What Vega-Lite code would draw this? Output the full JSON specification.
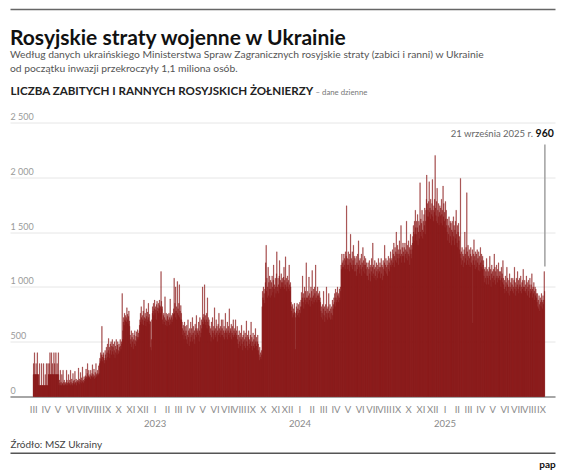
{
"$schema":"https://vega.github.io/schema/vega-lite/v6.json",
"width":545,"height":274,
"autosize":{"type":"none"},
"padding":{"left":10,"top":122.5,"right":9,"bottom":79.5},
"background":"#ffffff",
"config":{"font":"Lato","view":{"stroke":null},"axis":{"labelFont":"Lato","titleFont":"Lato"}},
"title":{"text":"Rosyjskie straty wojenne w Ukrainie","subtitle":["Według danych ukraińskiego Ministerstwa Spraw Zagranicznych rosyjskie straty (zabici i ranni) w Ukrainie","od początku inwazji przekroczyły 1,1 miliona osób."],"anchor":"start","frame":"group","orient":"top","baseline":"top","offset":-65.4,"font":"Lato","fontSize":21,"fontWeight":"bold","color":"#111111","subtitleFont":"Lato","subtitleFontSize":10.3,"subtitleColor":"#555555","subtitleLineHeight":14.3,"subtitlePadding":1},
"datasets":{"straty":[
{"d":"2022-03-12","v":200},{"d":"2022-03-13","v":300},{"d":"2022-03-14","v":200},{"d":"2022-03-15","v":400},{"d":"2022-03-16","v":200},{"d":"2022-03-17","v":200},{"d":"2022-03-18","v":200},{"d":"2022-03-19","v":300},{"d":"2022-03-20","v":200},{"d":"2022-03-21","v":200},{"d":"2022-03-22","v":400},{"d":"2022-03-23","v":200},{"d":"2022-03-24","v":200},{"d":"2022-03-25","v":200},{"d":"2022-03-26","v":100},{"d":"2022-03-27","v":100},{"d":"2022-03-28","v":300},{"d":"2022-03-29","v":100},{"d":"2022-03-30","v":100},{"d":"2022-03-31","v":100},
{"d":"2022-04-01","v":100},{"d":"2022-04-02","v":300},{"d":"2022-04-03","v":100},{"d":"2022-04-04","v":100},{"d":"2022-04-05","v":100},{"d":"2022-04-06","v":100},{"d":"2022-04-07","v":300},{"d":"2022-04-08","v":100},{"d":"2022-04-09","v":100},{"d":"2022-04-10","v":100},{"d":"2022-04-11","v":200},{"d":"2022-04-12","v":100},{"d":"2022-04-13","v":100},{"d":"2022-04-14","v":300},{"d":"2022-04-15","v":100},{"d":"2022-04-16","v":100},{"d":"2022-04-17","v":100},{"d":"2022-04-18","v":300},{"d":"2022-04-19","v":200},{"d":"2022-04-20","v":200},{"d":"2022-04-21","v":300},{"d":"2022-04-22","v":200},{"d":"2022-04-23","v":400},{"d":"2022-04-24","v":200},{"d":"2022-04-25","v":200},{"d":"2022-04-26","v":200},{"d":"2022-04-27","v":400},{"d":"2022-04-28","v":200},{"d":"2022-04-29","v":300},{"d":"2022-04-30","v":200},
{"d":"2022-05-01","v":200},{"d":"2022-05-02","v":200},{"d":"2022-05-03","v":400},{"d":"2022-05-04","v":200},{"d":"2022-05-05","v":300},{"d":"2022-05-06","v":200},{"d":"2022-05-07","v":200},{"d":"2022-05-08","v":400},{"d":"2022-05-09","v":200},{"d":"2022-05-10","v":200},{"d":"2022-05-11","v":300},{"d":"2022-05-12","v":200},{"d":"2022-05-13","v":200},{"d":"2022-05-14","v":400},{"d":"2022-05-15","v":200},{"d":"2022-05-16","v":100},{"d":"2022-05-17","v":150},{"d":"2022-05-18","v":120},{"d":"2022-05-19","v":240},{"d":"2022-05-20","v":100},{"d":"2022-05-21","v":130},{"d":"2022-05-22","v":100},{"d":"2022-05-23","v":200},{"d":"2022-05-24","v":120},{"d":"2022-05-25","v":110},{"d":"2022-05-26","v":240},{"d":"2022-05-27","v":100},{"d":"2022-05-28","v":130},{"d":"2022-05-29","v":150},{"d":"2022-05-30","v":100},{"d":"2022-05-31","v":120},
{"d":"2022-06-01","v":110},{"d":"2022-06-02","v":130},{"d":"2022-06-03","v":100},{"d":"2022-06-04","v":240},{"d":"2022-06-05","v":150},{"d":"2022-06-06","v":120},{"d":"2022-06-07","v":100},{"d":"2022-06-08","v":130},{"d":"2022-06-09","v":200},{"d":"2022-06-10","v":110},{"d":"2022-06-11","v":120},{"d":"2022-06-12","v":150},{"d":"2022-06-13","v":100},{"d":"2022-06-14","v":240},{"d":"2022-06-15","v":130},{"d":"2022-06-16","v":110},{"d":"2022-06-17","v":160},{"d":"2022-06-18","v":120},{"d":"2022-06-19","v":100},{"d":"2022-06-20","v":210},{"d":"2022-06-21","v":140},{"d":"2022-06-22","v":120},{"d":"2022-06-23","v":150},{"d":"2022-06-24","v":110},{"d":"2022-06-25","v":230},{"d":"2022-06-26","v":130},{"d":"2022-06-27","v":120},{"d":"2022-06-28","v":160},{"d":"2022-06-29","v":100},{"d":"2022-06-30","v":140},
{"d":"2022-07-01","v":130},{"d":"2022-07-02","v":150},{"d":"2022-07-03","v":120},{"d":"2022-07-04","v":260},{"d":"2022-07-05","v":140},{"d":"2022-07-06","v":110},{"d":"2022-07-07","v":160},{"d":"2022-07-08","v":130},{"d":"2022-07-09","v":220},{"d":"2022-07-10","v":150},{"d":"2022-07-11","v":120},{"d":"2022-07-12","v":170},{"d":"2022-07-13","v":140},{"d":"2022-07-14","v":270},{"d":"2022-07-15","v":130},{"d":"2022-07-16","v":150},{"d":"2022-07-17","v":120},{"d":"2022-07-18","v":180},{"d":"2022-07-19","v":140},{"d":"2022-07-20","v":160},{"d":"2022-07-21","v":190},{"d":"2022-07-22","v":170},{"d":"2022-07-23","v":250},{"d":"2022-07-24","v":180},{"d":"2022-07-25","v":160},{"d":"2022-07-26","v":210},{"d":"2022-07-27","v":300},{"d":"2022-07-28","v":170},{"d":"2022-07-29","v":190},{"d":"2022-07-30","v":240},{"d":"2022-07-31","v":180},
{"d":"2022-08-01","v":170},{"d":"2022-08-02","v":200},{"d":"2022-08-03","v":160},{"d":"2022-08-04","v":240},{"d":"2022-08-05","v":190},{"d":"2022-08-06","v":180},{"d":"2022-08-07","v":210},{"d":"2022-08-08","v":290},{"d":"2022-08-09","v":170},{"d":"2022-08-10","v":200},{"d":"2022-08-11","v":180},{"d":"2022-08-12","v":250},{"d":"2022-08-13","v":160},{"d":"2022-08-14","v":190},{"d":"2022-08-15","v":220},{"d":"2022-08-16","v":170},{"d":"2022-08-17","v":300},{"d":"2022-08-18","v":200},{"d":"2022-08-19","v":180},{"d":"2022-08-20","v":210},{"d":"2022-08-21","v":240},{"d":"2022-08-22","v":190},{"d":"2022-08-23","v":200},{"d":"2022-08-24","v":280},{"d":"2022-08-25","v":210},{"d":"2022-08-26","v":300},{"d":"2022-08-27","v":350},{"d":"2022-08-28","v":320},{"d":"2022-08-29","v":400},{"d":"2022-08-30","v":340},{"d":"2022-08-31","v":380},
{"d":"2022-09-01","v":640},{"d":"2022-09-02","v":360},{"d":"2022-09-03","v":320},{"d":"2022-09-04","v":380},{"d":"2022-09-05","v":400},{"d":"2022-09-06","v":350},{"d":"2022-09-07","v":330},{"d":"2022-09-08","v":300},{"d":"2022-09-09","v":420},{"d":"2022-09-10","v":380},{"d":"2022-09-11","v":350},{"d":"2022-09-12","v":450},{"d":"2022-09-13","v":330},{"d":"2022-09-14","v":400},{"d":"2022-09-15","v":480},{"d":"2022-09-16","v":360},{"d":"2022-09-17","v":420},{"d":"2022-09-18","v":530},{"d":"2022-09-19","v":390},{"d":"2022-09-20","v":450},{"d":"2022-09-21","v":350},{"d":"2022-09-22","v":480},{"d":"2022-09-23","v":420},{"d":"2022-09-24","v":500},{"d":"2022-09-25","v":380},{"d":"2022-09-26","v":460},{"d":"2022-09-27","v":520},{"d":"2022-09-28","v":410},{"d":"2022-09-29","v":450},{"d":"2022-09-30","v":480},
{"d":"2022-10-01","v":380},{"d":"2022-10-02","v":420},{"d":"2022-10-03","v":500},{"d":"2022-10-04","v":350},{"d":"2022-10-05","v":460},{"d":"2022-10-06","v":400},{"d":"2022-10-07","v":520},{"d":"2022-10-08","v":430},{"d":"2022-10-09","v":380},{"d":"2022-10-10","v":470},{"d":"2022-10-11","v":500},{"d":"2022-10-12","v":420},{"d":"2022-10-13","v":390},{"d":"2022-10-14","v":480},{"d":"2022-10-15","v":450},{"d":"2022-10-16","v":410},{"d":"2022-10-17","v":520},{"d":"2022-10-18","v":460},{"d":"2022-10-19","v":430},{"d":"2022-10-20","v":500},{"d":"2022-10-21","v":480},{"d":"2022-10-22","v":940},{"d":"2022-10-23","v":520},{"d":"2022-10-24","v":600},{"d":"2022-10-25","v":680},{"d":"2022-10-26","v":720},{"d":"2022-10-27","v":650},{"d":"2022-10-28","v":760},{"d":"2022-10-29","v":700},{"d":"2022-10-30","v":740},{"d":"2022-10-31","v":690},
{"d":"2022-11-01","v":720},{"d":"2022-11-02","v":680},{"d":"2022-11-03","v":810},{"d":"2022-11-04","v":700},{"d":"2022-11-05","v":750},{"d":"2022-11-06","v":660},{"d":"2022-11-07","v":730},{"d":"2022-11-08","v":780},{"d":"2022-11-09","v":690},{"d":"2022-11-10","v":640},{"d":"2022-11-11","v":560},{"d":"2022-11-12","v":480},{"d":"2022-11-13","v":520},{"d":"2022-11-14","v":600},{"d":"2022-11-15","v":450},{"d":"2022-11-16","v":540},{"d":"2022-11-17","v":500},{"d":"2022-11-18","v":580},{"d":"2022-11-19","v":430},{"d":"2022-11-20","v":520},{"d":"2022-11-21","v":560},{"d":"2022-11-22","v":480},{"d":"2022-11-23","v":600},{"d":"2022-11-24","v":510},{"d":"2022-11-25","v":460},{"d":"2022-11-26","v":550},{"d":"2022-11-27","v":590},{"d":"2022-11-28","v":500},{"d":"2022-11-29","v":540},{"d":"2022-11-30","v":610},
{"d":"2022-12-01","v":520},{"d":"2022-12-02","v":580},{"d":"2022-12-03","v":540},{"d":"2022-12-04","v":600},{"d":"2022-12-05","v":650},{"d":"2022-12-06","v":700},{"d":"2022-12-07","v":760},{"d":"2022-12-08","v":680},{"d":"2022-12-09","v":820},{"d":"2022-12-10","v":720},{"d":"2022-12-11","v":660},{"d":"2022-12-12","v":740},{"d":"2022-12-13","v":700},{"d":"2022-12-14","v":780},{"d":"2022-12-15","v":650},{"d":"2022-12-16","v":880},{"d":"2022-12-17","v":720},{"d":"2022-12-18","v":690},{"d":"2022-12-19","v":760},{"d":"2022-12-20","v":710},{"d":"2022-12-21","v":640},{"d":"2022-12-22","v":800},{"d":"2022-12-23","v":730},{"d":"2022-12-24","v":680},{"d":"2022-12-25","v":770},{"d":"2022-12-26","v":700},{"d":"2022-12-27","v":850},{"d":"2022-12-28","v":720},{"d":"2022-12-29","v":660},{"d":"2022-12-30","v":750},{"d":"2022-12-31","v":690},
{"d":"2023-01-01","v":680},{"d":"2023-01-02","v":450},{"d":"2023-01-03","v":420},{"d":"2023-01-04","v":520},{"d":"2023-01-05","v":700},{"d":"2023-01-06","v":760},{"d":"2023-01-07","v":820},{"d":"2023-01-08","v":780},{"d":"2023-01-09","v":850},{"d":"2023-01-10","v":740},{"d":"2023-01-11","v":800},{"d":"2023-01-12","v":880},{"d":"2023-01-13","v":760},{"d":"2023-01-14","v":820},{"d":"2023-01-15","v":790},{"d":"2023-01-16","v":700},{"d":"2023-01-17","v":840},{"d":"2023-01-18","v":870},{"d":"2023-01-19","v":780},{"d":"2023-01-20","v":810},{"d":"2023-01-21","v":760},{"d":"2023-01-22","v":850},{"d":"2023-01-23","v":800},{"d":"2023-01-24","v":880},{"d":"2023-01-25","v":830},{"d":"2023-01-26","v":760},{"d":"2023-01-27","v":820},{"d":"2023-01-28","v":1140},{"d":"2023-01-29","v":870},{"d":"2023-01-30","v":800},{"d":"2023-01-31","v":820},
{"d":"2023-02-01","v":700},{"d":"2023-02-02","v":660},{"d":"2023-02-03","v":740},{"d":"2023-02-04","v":760},{"d":"2023-02-05","v":680},{"d":"2023-02-06","v":720},{"d":"2023-02-07","v":910},{"d":"2023-02-08","v":650},{"d":"2023-02-09","v":700},{"d":"2023-02-10","v":760},{"d":"2023-02-11","v":690},{"d":"2023-02-12","v":640},{"d":"2023-02-13","v":730},{"d":"2023-02-14","v":750},{"d":"2023-02-15","v":680},{"d":"2023-02-16","v":700},{"d":"2023-02-17","v":760},{"d":"2023-02-18","v":650},{"d":"2023-02-19","v":720},{"d":"2023-02-20","v":890},{"d":"2023-02-21","v":700},{"d":"2023-02-22","v":660},{"d":"2023-02-23","v":740},{"d":"2023-02-24","v":720},{"d":"2023-02-25","v":680},{"d":"2023-02-26","v":760},{"d":"2023-02-27","v":700},{"d":"2023-02-28","v":750},
{"d":"2023-03-01","v":800},{"d":"2023-03-02","v":1080},{"d":"2023-03-03","v":760},{"d":"2023-03-04","v":850},{"d":"2023-03-05","v":720},{"d":"2023-03-06","v":1000},{"d":"2023-03-07","v":780},{"d":"2023-03-08","v":820},{"d":"2023-03-09","v":700},{"d":"2023-03-10","v":1050},{"d":"2023-03-11","v":760},{"d":"2023-03-12","v":800},{"d":"2023-03-13","v":740},{"d":"2023-03-14","v":850},{"d":"2023-03-15","v":1020},{"d":"2023-03-16","v":720},{"d":"2023-03-17","v":780},{"d":"2023-03-18","v":700},{"d":"2023-03-19","v":830},{"d":"2023-03-20","v":760},{"d":"2023-03-21","v":700},{"d":"2023-03-22","v":680},{"d":"2023-03-23","v":620},{"d":"2023-03-24","v":560},{"d":"2023-03-25","v":650},{"d":"2023-03-26","v":600},{"d":"2023-03-27","v":520},{"d":"2023-03-28","v":680},{"d":"2023-03-29","v":580},{"d":"2023-03-30","v":640},{"d":"2023-03-31","v":550},
{"d":"2023-04-01","v":600},{"d":"2023-04-02","v":520},{"d":"2023-04-03","v":650},{"d":"2023-04-04","v":480},{"d":"2023-04-05","v":560},{"d":"2023-04-06","v":700},{"d":"2023-04-07","v":540},{"d":"2023-04-08","v":600},{"d":"2023-04-09","v":460},{"d":"2023-04-10","v":620},{"d":"2023-04-11","v":580},{"d":"2023-04-12","v":500},{"d":"2023-04-13","v":680},{"d":"2023-04-14","v":540},{"d":"2023-04-15","v":620},{"d":"2023-04-16","v":560},{"d":"2023-04-17","v":720},{"d":"2023-04-18","v":500},{"d":"2023-04-19","v":580},{"d":"2023-04-20","v":640},{"d":"2023-04-21","v":520},{"d":"2023-04-22","v":600},{"d":"2023-04-23","v":480},{"d":"2023-04-24","v":660},{"d":"2023-04-25","v":560},{"d":"2023-04-26","v":620},{"d":"2023-04-27","v":740},{"d":"2023-04-28","v":540},{"d":"2023-04-29","v":600},{"d":"2023-04-30","v":580},
{"d":"2023-05-01","v":620},{"d":"2023-05-02","v":560},{"d":"2023-05-03","v":680},{"d":"2023-05-04","v":500},{"d":"2023-05-05","v":600},{"d":"2023-05-06","v":720},{"d":"2023-05-07","v":540},{"d":"2023-05-08","v":650},{"d":"2023-05-09","v":580},{"d":"2023-05-10","v":700},{"d":"2023-05-11","v":620},{"d":"2023-05-12","v":680},{"d":"2023-05-13","v":1000},{"d":"2023-05-14","v":720},{"d":"2023-05-15","v":660},{"d":"2023-05-16","v":750},{"d":"2023-05-17","v":700},{"d":"2023-05-18","v":1020},{"d":"2023-05-19","v":680},{"d":"2023-05-20","v":740},{"d":"2023-05-21","v":650},{"d":"2023-05-22","v":700},{"d":"2023-05-23","v":760},{"d":"2023-05-24","v":620},{"d":"2023-05-25","v":900},{"d":"2023-05-26","v":680},{"d":"2023-05-27","v":720},{"d":"2023-05-28","v":650},{"d":"2023-05-29","v":700},{"d":"2023-05-30","v":580},{"d":"2023-05-31","v":640},
{"d":"2023-06-01","v":560},{"d":"2023-06-02","v":620},{"d":"2023-06-03","v":500},{"d":"2023-06-04","v":680},{"d":"2023-06-05","v":540},{"d":"2023-06-06","v":600},{"d":"2023-06-07","v":720},{"d":"2023-06-08","v":580},{"d":"2023-06-09","v":520},{"d":"2023-06-10","v":640},{"d":"2023-06-11","v":600},{"d":"2023-06-12","v":810},{"d":"2023-06-13","v":560},{"d":"2023-06-14","v":620},{"d":"2023-06-15","v":540},{"d":"2023-06-16","v":700},{"d":"2023-06-17","v":580},{"d":"2023-06-18","v":640},{"d":"2023-06-19","v":500},{"d":"2023-06-20","v":600},{"d":"2023-06-21","v":660},{"d":"2023-06-22","v":560},{"d":"2023-06-23","v":760},{"d":"2023-06-24","v":620},{"d":"2023-06-25","v":580},{"d":"2023-06-26","v":540},{"d":"2023-06-27","v":640},{"d":"2023-06-28","v":600},{"d":"2023-06-29","v":700},{"d":"2023-06-30","v":560},
{"d":"2023-07-01","v":620},{"d":"2023-07-02","v":560},{"d":"2023-07-03","v":700},{"d":"2023-07-04","v":540},{"d":"2023-07-05","v":600},{"d":"2023-07-06","v":640},{"d":"2023-07-07","v":520},{"d":"2023-07-08","v":580},{"d":"2023-07-09","v":760},{"d":"2023-07-10","v":600},{"d":"2023-07-11","v":540},{"d":"2023-07-12","v":620},{"d":"2023-07-13","v":580},{"d":"2023-07-14","v":680},{"d":"2023-07-15","v":520},{"d":"2023-07-16","v":600},{"d":"2023-07-17","v":640},{"d":"2023-07-18","v":560},{"d":"2023-07-19","v":800},{"d":"2023-07-20","v":580},{"d":"2023-07-21","v":540},{"d":"2023-07-22","v":620},{"d":"2023-07-23","v":600},{"d":"2023-07-24","v":660},{"d":"2023-07-25","v":520},{"d":"2023-07-26","v":580},{"d":"2023-07-27","v":640},{"d":"2023-07-28","v":560},{"d":"2023-07-29","v":700},{"d":"2023-07-30","v":540},{"d":"2023-07-31","v":600},
{"d":"2023-08-01","v":560},{"d":"2023-08-02","v":620},{"d":"2023-08-03","v":580},{"d":"2023-08-04","v":700},{"d":"2023-08-05","v":540},{"d":"2023-08-06","v":600},{"d":"2023-08-07","v":560},{"d":"2023-08-08","v":640},{"d":"2023-08-09","v":520},{"d":"2023-08-10","v":480},{"d":"2023-08-11","v":560},{"d":"2023-08-12","v":440},{"d":"2023-08-13","v":600},{"d":"2023-08-14","v":500},{"d":"2023-08-15","v":540},{"d":"2023-08-16","v":460},{"d":"2023-08-17","v":580},{"d":"2023-08-18","v":520},{"d":"2023-08-19","v":650},{"d":"2023-08-20","v":480},{"d":"2023-08-21","v":540},{"d":"2023-08-22","v":420},{"d":"2023-08-23","v":560},{"d":"2023-08-24","v":500},{"d":"2023-08-25","v":600},{"d":"2023-08-26","v":460},{"d":"2023-08-27","v":520},{"d":"2023-08-28","v":580},{"d":"2023-08-29","v":440},{"d":"2023-08-30","v":540},{"d":"2023-08-31","v":690},
{"d":"2023-09-01","v":500},{"d":"2023-09-02","v":460},{"d":"2023-09-03","v":560},{"d":"2023-09-04","v":420},{"d":"2023-09-05","v":540},{"d":"2023-09-06","v":600},{"d":"2023-09-07","v":480},{"d":"2023-09-08","v":520},{"d":"2023-09-09","v":440},{"d":"2023-09-10","v":560},{"d":"2023-09-11","v":500},{"d":"2023-09-12","v":680},{"d":"2023-09-13","v":460},{"d":"2023-09-14","v":540},{"d":"2023-09-15","v":420},{"d":"2023-09-16","v":500},{"d":"2023-09-17","v":580},{"d":"2023-09-18","v":460},{"d":"2023-09-19","v":520},{"d":"2023-09-20","v":440},{"d":"2023-09-21","v":560},{"d":"2023-09-22","v":480},{"d":"2023-09-23","v":620},{"d":"2023-09-24","v":500},{"d":"2023-09-25","v":460},{"d":"2023-09-26","v":540},{"d":"2023-09-27","v":420},{"d":"2023-09-28","v":500},{"d":"2023-09-29","v":560},{"d":"2023-09-30","v":480},
{"d":"2023-10-01","v":420},{"d":"2023-10-02","v":380},{"d":"2023-10-03","v":330},{"d":"2023-10-04","v":450},{"d":"2023-10-05","v":360},{"d":"2023-10-06","v":400},{"d":"2023-10-07","v":340},{"d":"2023-10-08","v":420},{"d":"2023-10-09","v":380},{"d":"2023-10-10","v":820},{"d":"2023-10-11","v":960},{"d":"2023-10-12","v":900},{"d":"2023-10-13","v":1000},{"d":"2023-10-14","v":880},{"d":"2023-10-15","v":940},{"d":"2023-10-16","v":850},{"d":"2023-10-17","v":980},{"d":"2023-10-18","v":1040},{"d":"2023-10-19","v":1220},{"d":"2023-10-20","v":1380},{"d":"2023-10-21","v":960},{"d":"2023-10-22","v":1080},{"d":"2023-10-23","v":900},{"d":"2023-10-24","v":1000},{"d":"2023-10-25","v":1180},{"d":"2023-10-26","v":920},{"d":"2023-10-27","v":1040},{"d":"2023-10-28","v":980},{"d":"2023-10-29","v":1100},{"d":"2023-10-30","v":900},{"d":"2023-10-31","v":1060},
{"d":"2023-11-01","v":980},{"d":"2023-11-02","v":1040},{"d":"2023-11-03","v":920},{"d":"2023-11-04","v":1100},{"d":"2023-11-05","v":1000},{"d":"2023-11-06","v":950},{"d":"2023-11-07","v":1060},{"d":"2023-11-08","v":1200},{"d":"2023-11-09","v":980},{"d":"2023-11-10","v":1020},{"d":"2023-11-11","v":900},{"d":"2023-11-12","v":1080},{"d":"2023-11-13","v":1000},{"d":"2023-11-14","v":940},{"d":"2023-11-15","v":1120},{"d":"2023-11-16","v":1320},{"d":"2023-11-17","v":1000},{"d":"2023-11-18","v":960},{"d":"2023-11-19","v":1080},{"d":"2023-11-20","v":1020},{"d":"2023-11-21","v":940},{"d":"2023-11-22","v":1100},{"d":"2023-11-23","v":1240},{"d":"2023-11-24","v":1000},{"d":"2023-11-25","v":1060},{"d":"2023-11-26","v":980},{"d":"2023-11-27","v":1120},{"d":"2023-11-28","v":1040},{"d":"2023-11-29","v":1000},{"d":"2023-11-30","v":1080},
{"d":"2023-12-01","v":1040},{"d":"2023-12-02","v":1000},{"d":"2023-12-03","v":1090},{"d":"2023-12-04","v":1180},{"d":"2023-12-05","v":980},{"d":"2023-12-06","v":1060},{"d":"2023-12-07","v":1020},{"d":"2023-12-08","v":1275},{"d":"2023-12-09","v":1000},{"d":"2023-12-10","v":1080},{"d":"2023-12-11","v":960},{"d":"2023-12-12","v":1040},{"d":"2023-12-13","v":1100},{"d":"2023-12-14","v":1000},{"d":"2023-12-15","v":1060},{"d":"2023-12-16","v":980},{"d":"2023-12-17","v":1200},{"d":"2023-12-18","v":1020},{"d":"2023-12-19","v":960},{"d":"2023-12-20","v":1040},{"d":"2023-12-21","v":1000},{"d":"2023-12-22","v":860},{"d":"2023-12-23","v":780},{"d":"2023-12-24","v":820},{"d":"2023-12-25","v":720},{"d":"2023-12-26","v":840},{"d":"2023-12-27","v":760},{"d":"2023-12-28","v":800},{"d":"2023-12-29","v":740},{"d":"2023-12-30","v":850},{"d":"2023-12-31","v":770},
{"d":"2024-01-01","v":760},{"d":"2024-01-02","v":430},{"d":"2024-01-03","v":720},{"d":"2024-01-04","v":820},{"d":"2024-01-05","v":780},{"d":"2024-01-06","v":850},{"d":"2024-01-07","v":740},{"d":"2024-01-08","v":800},{"d":"2024-01-09","v":760},{"d":"2024-01-10","v":840},{"d":"2024-01-11","v":720},{"d":"2024-01-12","v":790},{"d":"2024-01-13","v":860},{"d":"2024-01-14","v":760},{"d":"2024-01-15","v":820},{"d":"2024-01-16","v":880},{"d":"2024-01-17","v":950},{"d":"2024-01-18","v":820},{"d":"2024-01-19","v":900},{"d":"2024-01-20","v":1100},{"d":"2024-01-21","v":860},{"d":"2024-01-22","v":940},{"d":"2024-01-23","v":800},{"d":"2024-01-24","v":900},{"d":"2024-01-25","v":1000},{"d":"2024-01-26","v":880},{"d":"2024-01-27","v":960},{"d":"2024-01-28","v":840},{"d":"2024-01-29","v":1220},{"d":"2024-01-30","v":900},{"d":"2024-01-31","v":860},
{"d":"2024-02-01","v":900},{"d":"2024-02-02","v":960},{"d":"2024-02-03","v":840},{"d":"2024-02-04","v":920},{"d":"2024-02-05","v":1090},{"d":"2024-02-06","v":880},{"d":"2024-02-07","v":940},{"d":"2024-02-08","v":820},{"d":"2024-02-09","v":900},{"d":"2024-02-10","v":1000},{"d":"2024-02-11","v":870},{"d":"2024-02-12","v":960},{"d":"2024-02-13","v":1150},{"d":"2024-02-14","v":900},{"d":"2024-02-15","v":840},{"d":"2024-02-16","v":920},{"d":"2024-02-17","v":980},{"d":"2024-02-18","v":860},{"d":"2024-02-19","v":1000},{"d":"2024-02-20","v":940},{"d":"2024-02-21","v":880},{"d":"2024-02-22","v":1200},{"d":"2024-02-23","v":900},{"d":"2024-02-24","v":960},{"d":"2024-02-25","v":860},{"d":"2024-02-26","v":920},{"d":"2024-02-27","v":1000},{"d":"2024-02-28","v":880},{"d":"2024-02-29","v":940},
{"d":"2024-03-01","v":920},{"d":"2024-03-02","v":880},{"d":"2024-03-03","v":960},{"d":"2024-03-04","v":900},{"d":"2024-03-05","v":860},{"d":"2024-03-06","v":780},{"d":"2024-03-07","v":720},{"d":"2024-03-08","v":820},{"d":"2024-03-09","v":760},{"d":"2024-03-10","v":840},{"d":"2024-03-11","v":700},{"d":"2024-03-12","v":800},{"d":"2024-03-13","v":960},{"d":"2024-03-14","v":740},{"d":"2024-03-15","v":820},{"d":"2024-03-16","v":680},{"d":"2024-03-17","v":780},{"d":"2024-03-18","v":840},{"d":"2024-03-19","v":720},{"d":"2024-03-20","v":1000},{"d":"2024-03-21","v":760},{"d":"2024-03-22","v":800},{"d":"2024-03-23","v":700},{"d":"2024-03-24","v":820},{"d":"2024-03-25","v":760},{"d":"2024-03-26","v":940},{"d":"2024-03-27","v":720},{"d":"2024-03-28","v":780},{"d":"2024-03-29","v":840},{"d":"2024-03-30","v":700},{"d":"2024-03-31","v":800},
{"d":"2024-04-01","v":760},{"d":"2024-04-02","v":820},{"d":"2024-04-03","v":700},{"d":"2024-04-04","v":880},{"d":"2024-04-05","v":740},{"d":"2024-04-06","v":800},{"d":"2024-04-07","v":840},{"d":"2024-04-08","v":900},{"d":"2024-04-09","v":860},{"d":"2024-04-10","v":940},{"d":"2024-04-11","v":820},{"d":"2024-04-12","v":980},{"d":"2024-04-13","v":900},{"d":"2024-04-14","v":860},{"d":"2024-04-15","v":950},{"d":"2024-04-16","v":880},{"d":"2024-04-17","v":1000},{"d":"2024-04-18","v":920},{"d":"2024-04-19","v":860},{"d":"2024-04-20","v":940},{"d":"2024-04-21","v":900},{"d":"2024-04-22","v":980},{"d":"2024-04-23","v":880},{"d":"2024-04-24","v":1000},{"d":"2024-04-25","v":960},{"d":"2024-04-26","v":1200},{"d":"2024-04-27","v":1160},{"d":"2024-04-28","v":1300},{"d":"2024-04-29","v":1220},{"d":"2024-04-30","v":1180},
{"d":"2024-05-01","v":1240},{"d":"2024-05-02","v":1180},{"d":"2024-05-03","v":1300},{"d":"2024-05-04","v":1200},{"d":"2024-05-05","v":1260},{"d":"2024-05-06","v":1160},{"d":"2024-05-07","v":1320},{"d":"2024-05-08","v":1240},{"d":"2024-05-09","v":1280},{"d":"2024-05-10","v":1740},{"d":"2024-05-11","v":1200},{"d":"2024-05-12","v":1260},{"d":"2024-05-13","v":1160},{"d":"2024-05-14","v":1320},{"d":"2024-05-15","v":1200},{"d":"2024-05-16","v":1250},{"d":"2024-05-17","v":1140},{"d":"2024-05-18","v":1300},{"d":"2024-05-19","v":1220},{"d":"2024-05-20","v":1480},{"d":"2024-05-21","v":1180},{"d":"2024-05-22","v":1260},{"d":"2024-05-23","v":1200},{"d":"2024-05-24","v":1320},{"d":"2024-05-25","v":1160},{"d":"2024-05-26","v":1240},{"d":"2024-05-27","v":1380},{"d":"2024-05-28","v":1200},{"d":"2024-05-29","v":1280},{"d":"2024-05-30","v":1140},{"d":"2024-05-31","v":1260},
{"d":"2024-06-01","v":1200},{"d":"2024-06-02","v":1140},{"d":"2024-06-03","v":1280},{"d":"2024-06-04","v":1100},{"d":"2024-06-05","v":1220},{"d":"2024-06-06","v":1160},{"d":"2024-06-07","v":1300},{"d":"2024-06-08","v":1200},{"d":"2024-06-09","v":1420},{"d":"2024-06-10","v":1180},{"d":"2024-06-11","v":1240},{"d":"2024-06-12","v":1120},{"d":"2024-06-13","v":1260},{"d":"2024-06-14","v":1200},{"d":"2024-06-15","v":1160},{"d":"2024-06-16","v":1300},{"d":"2024-06-17","v":1100},{"d":"2024-06-18","v":1220},{"d":"2024-06-19","v":1180},{"d":"2024-06-20","v":1360},{"d":"2024-06-21","v":1140},{"d":"2024-06-22","v":1240},{"d":"2024-06-23","v":1200},{"d":"2024-06-24","v":1280},{"d":"2024-06-25","v":1120},{"d":"2024-06-26","v":1200},{"d":"2024-06-27","v":1260},{"d":"2024-06-28","v":1160},{"d":"2024-06-29","v":1220},{"d":"2024-06-30","v":1100},
{"d":"2024-07-01","v":1180},{"d":"2024-07-02","v":1100},{"d":"2024-07-03","v":1220},{"d":"2024-07-04","v":1060},{"d":"2024-07-05","v":1160},{"d":"2024-07-06","v":1240},{"d":"2024-07-07","v":1120},{"d":"2024-07-08","v":1180},{"d":"2024-07-09","v":1050},{"d":"2024-07-10","v":1200},{"d":"2024-07-11","v":1140},{"d":"2024-07-12","v":1260},{"d":"2024-07-13","v":1100},{"d":"2024-07-14","v":1180},{"d":"2024-07-15","v":1400},{"d":"2024-07-16","v":1120},{"d":"2024-07-17","v":1200},{"d":"2024-07-18","v":1080},{"d":"2024-07-19","v":1160},{"d":"2024-07-20","v":1240},{"d":"2024-07-21","v":1100},{"d":"2024-07-22","v":1180},{"d":"2024-07-23","v":1060},{"d":"2024-07-24","v":1220},{"d":"2024-07-25","v":1140},{"d":"2024-07-26","v":1200},{"d":"2024-07-27","v":1080},{"d":"2024-07-28","v":1160},{"d":"2024-07-29","v":1260},{"d":"2024-07-30","v":1120},{"d":"2024-07-31","v":1180},
{"d":"2024-08-01","v":1140},{"d":"2024-08-02","v":1220},{"d":"2024-08-03","v":1080},{"d":"2024-08-04","v":1180},{"d":"2024-08-05","v":1260},{"d":"2024-08-06","v":1120},{"d":"2024-08-07","v":1200},{"d":"2024-08-08","v":1060},{"d":"2024-08-09","v":1180},{"d":"2024-08-10","v":1240},{"d":"2024-08-11","v":1100},{"d":"2024-08-12","v":1160},{"d":"2024-08-13","v":1220},{"d":"2024-08-14","v":1380},{"d":"2024-08-15","v":1140},{"d":"2024-08-16","v":1200},{"d":"2024-08-17","v":1260},{"d":"2024-08-18","v":1120},{"d":"2024-08-19","v":1180},{"d":"2024-08-20","v":1240},{"d":"2024-08-21","v":1100},{"d":"2024-08-22","v":1200},{"d":"2024-08-23","v":1280},{"d":"2024-08-24","v":1160},{"d":"2024-08-25","v":1220},{"d":"2024-08-26","v":1140},{"d":"2024-08-27","v":1260},{"d":"2024-08-28","v":1200},{"d":"2024-08-29","v":1320},{"d":"2024-08-30","v":1180},{"d":"2024-08-31","v":1240},
{"d":"2024-09-01","v":1260},{"d":"2024-09-02","v":1200},{"d":"2024-09-03","v":1340},{"d":"2024-09-04","v":1220},{"d":"2024-09-05","v":1300},{"d":"2024-09-06","v":1400},{"d":"2024-09-07","v":1180},{"d":"2024-09-08","v":1280},{"d":"2024-09-09","v":1360},{"d":"2024-09-10","v":1240},{"d":"2024-09-11","v":1320},{"d":"2024-09-12","v":1500},{"d":"2024-09-13","v":1220},{"d":"2024-09-14","v":1300},{"d":"2024-09-15","v":1380},{"d":"2024-09-16","v":1260},{"d":"2024-09-17","v":1340},{"d":"2024-09-18","v":1200},{"d":"2024-09-19","v":1300},{"d":"2024-09-20","v":1420},{"d":"2024-09-21","v":1260},{"d":"2024-09-22","v":1340},{"d":"2024-09-23","v":1280},{"d":"2024-09-24","v":1560},{"d":"2024-09-25","v":1300},{"d":"2024-09-26","v":1220},{"d":"2024-09-27","v":1360},{"d":"2024-09-28","v":1280},{"d":"2024-09-29","v":1400},{"d":"2024-09-30","v":1320},
{"d":"2024-10-01","v":1280},{"d":"2024-10-02","v":1360},{"d":"2024-10-03","v":1220},{"d":"2024-10-04","v":1400},{"d":"2024-10-05","v":1300},{"d":"2024-10-06","v":1340},{"d":"2024-10-07","v":1260},{"d":"2024-10-08","v":1600},{"d":"2024-10-09","v":1320},{"d":"2024-10-10","v":1380},{"d":"2024-10-11","v":1240},{"d":"2024-10-12","v":1300},{"d":"2024-10-13","v":1420},{"d":"2024-10-14","v":1280},{"d":"2024-10-15","v":1360},{"d":"2024-10-16","v":1200},{"d":"2024-10-17","v":1340},{"d":"2024-10-18","v":1480},{"d":"2024-10-19","v":1300},{"d":"2024-10-20","v":1380},{"d":"2024-10-21","v":1260},{"d":"2024-10-22","v":1340},{"d":"2024-10-23","v":1400},{"d":"2024-10-24","v":1460},{"d":"2024-10-25","v":1560},{"d":"2024-10-26","v":1500},{"d":"2024-10-27","v":1420},{"d":"2024-10-28","v":1600},{"d":"2024-10-29","v":1480},{"d":"2024-10-30","v":1700},{"d":"2024-10-31","v":1540},
{"d":"2024-11-01","v":1480},{"d":"2024-11-02","v":1600},{"d":"2024-11-03","v":1420},{"d":"2024-11-04","v":1540},{"d":"2024-11-05","v":1660},{"d":"2024-11-06","v":1380},{"d":"2024-11-07","v":1500},{"d":"2024-11-08","v":1600},{"d":"2024-11-09","v":1440},{"d":"2024-11-10","v":1560},{"d":"2024-11-11","v":1950},{"d":"2024-11-12","v":1500},{"d":"2024-11-13","v":1620},{"d":"2024-11-14","v":1460},{"d":"2024-11-15","v":1580},{"d":"2024-11-16","v":1700},{"d":"2024-11-17","v":1520},{"d":"2024-11-18","v":1440},{"d":"2024-11-19","v":1600},{"d":"2024-11-20","v":1500},{"d":"2024-11-21","v":1660},{"d":"2024-11-22","v":1560},{"d":"2024-11-23","v":1720},{"d":"2024-11-24","v":1480},{"d":"2024-11-25","v":1600},{"d":"2024-11-26","v":1700},{"d":"2024-11-27","v":1800},{"d":"2024-11-28","v":2020},{"d":"2024-11-29","v":1640},{"d":"2024-11-30","v":1760},
{"d":"2024-12-01","v":1700},{"d":"2024-12-02","v":1640},{"d":"2024-12-03","v":1780},{"d":"2024-12-04","v":1960},{"d":"2024-12-05","v":1680},{"d":"2024-12-06","v":1720},{"d":"2024-12-07","v":1620},{"d":"2024-12-08","v":1800},{"d":"2024-12-09","v":1700},{"d":"2024-12-10","v":1660},{"d":"2024-12-11","v":1760},{"d":"2024-12-12","v":1980},{"d":"2024-12-13","v":1640},{"d":"2024-12-14","v":1700},{"d":"2024-12-15","v":1600},{"d":"2024-12-16","v":1740},{"d":"2024-12-17","v":1680},{"d":"2024-12-18","v":1800},{"d":"2024-12-19","v":2200},{"d":"2024-12-20","v":1720},{"d":"2024-12-21","v":1650},{"d":"2024-12-22","v":1600},{"d":"2024-12-23","v":1780},{"d":"2024-12-24","v":1900},{"d":"2024-12-25","v":1580},{"d":"2024-12-26","v":1700},{"d":"2024-12-27","v":1640},{"d":"2024-12-28","v":1760},{"d":"2024-12-29","v":1560},{"d":"2024-12-30","v":1680},{"d":"2024-12-31","v":1740},
{"d":"2025-01-01","v":1650},{"d":"2025-01-02","v":1720},{"d":"2025-01-03","v":1580},{"d":"2025-01-04","v":1800},{"d":"2025-01-05","v":1660},{"d":"2025-01-06","v":1700},{"d":"2025-01-07","v":1560},{"d":"2025-01-08","v":1920},{"d":"2025-01-09","v":1640},{"d":"2025-01-10","v":1760},{"d":"2025-01-11","v":1600},{"d":"2025-01-12","v":1680},{"d":"2025-01-13","v":1540},{"d":"2025-01-14","v":1780},{"d":"2025-01-15","v":1620},{"d":"2025-01-16","v":1700},{"d":"2025-01-17","v":1560},{"d":"2025-01-18","v":1500},{"d":"2025-01-19","v":1620},{"d":"2025-01-20","v":1420},{"d":"2025-01-21","v":1560},{"d":"2025-01-22","v":1480},{"d":"2025-01-23","v":1640},{"d":"2025-01-24","v":1400},{"d":"2025-01-25","v":1540},{"d":"2025-01-26","v":1600},{"d":"2025-01-27","v":1460},{"d":"2025-01-28","v":1580},{"d":"2025-01-29","v":1380},{"d":"2025-01-30","v":1520},{"d":"2025-01-31","v":1600},
{"d":"2025-02-01","v":1500},{"d":"2025-02-02","v":1420},{"d":"2025-02-03","v":1640},{"d":"2025-02-04","v":1460},{"d":"2025-02-05","v":1560},{"d":"2025-02-06","v":1380},{"d":"2025-02-07","v":1520},{"d":"2025-02-08","v":1600},{"d":"2025-02-09","v":1440},{"d":"2025-02-10","v":1700},{"d":"2025-02-11","v":1480},{"d":"2025-02-12","v":1400},{"d":"2025-02-13","v":1560},{"d":"2025-02-14","v":1360},{"d":"2025-02-15","v":1500},{"d":"2025-02-16","v":1580},{"d":"2025-02-17","v":1420},{"d":"2025-02-18","v":1460},{"d":"2025-02-19","v":1340},{"d":"2025-02-20","v":1300},{"d":"2025-02-21","v":1990},{"d":"2025-02-22","v":1260},{"d":"2025-02-23","v":1320},{"d":"2025-02-24","v":1200},{"d":"2025-02-25","v":1360},{"d":"2025-02-26","v":1240},{"d":"2025-02-27","v":1300},{"d":"2025-02-28","v":1180},
{"d":"2025-03-01","v":1280},{"d":"2025-03-02","v":1340},{"d":"2025-03-03","v":1220},{"d":"2025-03-04","v":1500},{"d":"2025-03-05","v":1300},{"d":"2025-03-06","v":1260},{"d":"2025-03-07","v":1360},{"d":"2025-03-08","v":1200},{"d":"2025-03-09","v":1860},{"d":"2025-03-10","v":1320},{"d":"2025-03-11","v":1240},{"d":"2025-03-12","v":1380},{"d":"2025-03-13","v":1280},{"d":"2025-03-14","v":1200},{"d":"2025-03-15","v":1340},{"d":"2025-03-16","v":1260},{"d":"2025-03-17","v":1180},{"d":"2025-03-18","v":1300},{"d":"2025-03-19","v":1360},{"d":"2025-03-20","v":1220},{"d":"2025-03-21","v":1280},{"d":"2025-03-22","v":1200},{"d":"2025-03-23","v":1340},{"d":"2025-03-24","v":670},{"d":"2025-03-25","v":1240},{"d":"2025-03-26","v":1300},{"d":"2025-03-27","v":1430},{"d":"2025-03-28","v":1200},{"d":"2025-03-29","v":1280},{"d":"2025-03-30","v":1160},{"d":"2025-03-31","v":1320},
{"d":"2025-04-01","v":1240},{"d":"2025-04-02","v":1300},{"d":"2025-04-03","v":1180},{"d":"2025-04-04","v":1340},{"d":"2025-04-05","v":1220},{"d":"2025-04-06","v":1260},{"d":"2025-04-07","v":1150},{"d":"2025-04-08","v":1320},{"d":"2025-04-09","v":1200},{"d":"2025-04-10","v":1280},{"d":"2025-04-11","v":1140},{"d":"2025-04-12","v":1360},{"d":"2025-04-13","v":1220},{"d":"2025-04-14","v":1180},{"d":"2025-04-15","v":1300},{"d":"2025-04-16","v":1240},{"d":"2025-04-17","v":1160},{"d":"2025-04-18","v":1280},{"d":"2025-04-19","v":1200},{"d":"2025-04-20","v":1240},{"d":"2025-04-21","v":1100},{"d":"2025-04-22","v":1160},{"d":"2025-04-23","v":1040},{"d":"2025-04-24","v":1180},{"d":"2025-04-25","v":1080},{"d":"2025-04-26","v":1140},{"d":"2025-04-27","v":1020},{"d":"2025-04-28","v":1260},{"d":"2025-04-29","v":1100},{"d":"2025-04-30","v":1160},
{"d":"2025-05-01","v":1080},{"d":"2025-05-02","v":1140},{"d":"2025-05-03","v":1020},{"d":"2025-05-04","v":1180},{"d":"2025-05-05","v":1100},{"d":"2025-05-06","v":1280},{"d":"2025-05-07","v":1060},{"d":"2025-05-08","v":1160},{"d":"2025-05-09","v":1000},{"d":"2025-05-10","v":1120},{"d":"2025-05-11","v":1200},{"d":"2025-05-12","v":1080},{"d":"2025-05-13","v":1140},{"d":"2025-05-14","v":1040},{"d":"2025-05-15","v":1160},{"d":"2025-05-16","v":1100},{"d":"2025-05-17","v":1300},{"d":"2025-05-18","v":1060},{"d":"2025-05-19","v":1180},{"d":"2025-05-20","v":1020},{"d":"2025-05-21","v":1140},{"d":"2025-05-22","v":1080},{"d":"2025-05-23","v":1200},{"d":"2025-05-24","v":1100},{"d":"2025-05-25","v":1040},{"d":"2025-05-26","v":1160},{"d":"2025-05-27","v":1080},{"d":"2025-05-28","v":1220},{"d":"2025-05-29","v":1060},{"d":"2025-05-30","v":1140},{"d":"2025-05-31","v":1100},
{"d":"2025-06-01","v":1060},{"d":"2025-06-02","v":1140},{"d":"2025-06-03","v":1000},{"d":"2025-06-04","v":1180},{"d":"2025-06-05","v":1080},{"d":"2025-06-06","v":1120},{"d":"2025-06-07","v":1040},{"d":"2025-06-08","v":1240},{"d":"2025-06-09","v":1080},{"d":"2025-06-10","v":1020},{"d":"2025-06-11","v":980},{"d":"2025-06-12","v":1060},{"d":"2025-06-13","v":940},{"d":"2025-06-14","v":1100},{"d":"2025-06-15","v":1000},{"d":"2025-06-16","v":1040},{"d":"2025-06-17","v":960},{"d":"2025-06-18","v":1180},{"d":"2025-06-19","v":1020},{"d":"2025-06-20","v":1080},{"d":"2025-06-21","v":940},{"d":"2025-06-22","v":1000},{"d":"2025-06-23","v":1060},{"d":"2025-06-24","v":920},{"d":"2025-06-25","v":1120},{"d":"2025-06-26","v":1000},{"d":"2025-06-27","v":960},{"d":"2025-06-28","v":1040},{"d":"2025-06-29","v":1080},{"d":"2025-06-30","v":980},
{"d":"2025-07-01","v":1020},{"d":"2025-07-02","v":960},{"d":"2025-07-03","v":1080},{"d":"2025-07-04","v":1000},{"d":"2025-07-05","v":940},{"d":"2025-07-06","v":1060},{"d":"2025-07-07","v":1180},{"d":"2025-07-08","v":980},{"d":"2025-07-09","v":1040},{"d":"2025-07-10","v":920},{"d":"2025-07-11","v":1000},{"d":"2025-07-12","v":1080},{"d":"2025-07-13","v":960},{"d":"2025-07-14","v":1020},{"d":"2025-07-15","v":1140},{"d":"2025-07-16","v":980},{"d":"2025-07-17","v":1060},{"d":"2025-07-18","v":940},{"d":"2025-07-19","v":1000},{"d":"2025-07-20","v":1080},{"d":"2025-07-21","v":1020},{"d":"2025-07-22","v":960},{"d":"2025-07-23","v":1100},{"d":"2025-07-24","v":1000},{"d":"2025-07-25","v":940},{"d":"2025-07-26","v":1040},{"d":"2025-07-27","v":980},{"d":"2025-07-28","v":1060},{"d":"2025-07-29","v":1160},{"d":"2025-07-30","v":1000},{"d":"2025-07-31","v":960},
{"d":"2025-08-01","v":1000},{"d":"2025-08-02","v":1060},{"d":"2025-08-03","v":960},{"d":"2025-08-04","v":1020},{"d":"2025-08-05","v":940},{"d":"2025-08-06","v":1100},{"d":"2025-08-07","v":980},{"d":"2025-08-08","v":1040},{"d":"2025-08-09","v":920},{"d":"2025-08-10","v":1000},{"d":"2025-08-11","v":1060},{"d":"2025-08-12","v":960},{"d":"2025-08-13","v":1020},{"d":"2025-08-14","v":900},{"d":"2025-08-15","v":1080},{"d":"2025-08-16","v":980},{"d":"2025-08-17","v":940},{"d":"2025-08-18","v":1020},{"d":"2025-08-19","v":960},{"d":"2025-08-20","v":1120},{"d":"2025-08-21","v":980},{"d":"2025-08-22","v":900},{"d":"2025-08-23","v":1000},{"d":"2025-08-24","v":940},{"d":"2025-08-25","v":1040},{"d":"2025-08-26","v":960},{"d":"2025-08-27","v":880},{"d":"2025-08-28","v":1000},{"d":"2025-08-29","v":920},{"d":"2025-08-30","v":980},{"d":"2025-08-31","v":940},
{"d":"2025-09-01","v":900},{"d":"2025-09-02","v":860},{"d":"2025-09-03","v":940},{"d":"2025-09-04","v":820},{"d":"2025-09-05","v":880},{"d":"2025-09-06","v":800},{"d":"2025-09-07","v":920},{"d":"2025-09-08","v":840},{"d":"2025-09-09","v":780},{"d":"2025-09-10","v":900},{"d":"2025-09-11","v":860},{"d":"2025-09-12","v":820},{"d":"2025-09-13","v":940},{"d":"2025-09-14","v":880},{"d":"2025-09-15","v":800},{"d":"2025-09-16","v":860},{"d":"2025-09-17","v":920},{"d":"2025-09-18","v":840},{"d":"2025-09-19","v":880},{"d":"2025-09-20","v":1140},{"d":"2025-09-21","v":960}
],
"ostatni":[{"d":"2025-09-21","v":960}]},
"resolve":{"axis":{"x":"independent","y":"independent"}},
"layer":[
{"data":{"name":"straty"},
 "mark":{"type":"bar","color":"#8b1a1a","stroke":"#8b1a1a","strokeWidth":0.25},
 "encoding":{
  "x":{"field":"d","type":"temporal","timeUnit":"utcyearmonthdate",
   "scale":{"type":"utc","domain":[{"year":2022,"month":1,"date":14,"utc":true},{"year":2025,"month":10,"date":19,"utc":true}]},
   "axis":{"orient":"bottom","domain":true,"domainColor":"#8c8c8c","domainWidth":1.5,"ticks":false,"grid":false,
    "tickCount":{"interval":"month","step":1},
    "labelExpr":"(datum.value < utc(2022,2,1) || datum.value > utc(2025,8,2)) ? '' : (utcmonth(datum.value) == 0 ? [['I','II','III','IV','V','VI','VII','VIII','IX','X','XI','XII'][utcmonth(datum.value)], '' + utcyear(datum.value)] : ['I','II','III','IV','V','VI','VII','VIII','IX','X','XI','XII'][utcmonth(datum.value)])",
    "labelOverlap":false,"labelFlush":false,"labelBound":false,"labelOffset":5,"labelPadding":7.5,"labelBaseline":"top","labelFontSize":9.5,"labelColor":"#8a8a8a","labelLineHeight":14,
    "title":"Źródło: MSZ Ukrainy","titleX":0,"titleY":50.5,"titleAlign":"left","titleAnchor":"start","titleBaseline":"alphabetic","titleFontSize":10,"titleFontWeight":"normal","titleColor":"#444444"}},
  "y":{"field":"v","type":"quantitative","scale":{"domain":[0,2500],"nice":false},
   "axis":{"orient":"left","values":[0,500,1000,1500,2000,2500],"grid":true,"gridColor":"#e6e6e6","gridWidth":1,"domain":false,"ticks":false,
    "labelAlign":"left","labelBaseline":"alphabetic","labelPadding":0,"labelOffset":-3,"labelFontSize":9,"labelColor":"#9a9a9a",
    "labelExpr":"replace(format(datum.value, ','), ',', ' ')",
    "title":"LICZBA ZABITYCH I RANNYCH ROSYJSKICH ŻOŁNIERZY","titleAngle":0,"titleX":0,"titleY":-28.5,"titleAlign":"left","titleBaseline":"alphabetic","titleFontSize":11.6,"titleFontWeight":"bold","titleColor":"#222222"}}
 }},
{"data":{"name":"ostatni"},
 "mark":{"type":"rule","color":"#a0a0a0","strokeWidth":1.5},
 "encoding":{
  "x":{"datum":{"year":2025,"month":9,"date":23,"hours":12,"utc":true},"type":"temporal",
   "axis":{"orient":"top","offset":113.5,"domain":true,"domainColor":"#666666","domainWidth":1.5,"labels":false,"ticks":false,"grid":false,"title":null}},
  "y":{"datum":2300,"type":"quantitative",
   "axis":{"orient":"right","domain":false,"labels":false,"ticks":false,"grid":false,"title":"– dane dzienne","titleAngle":0,"titleX":-240,"titleY":-28.5,"titleAlign":"left","titleBaseline":"alphabetic","titleFontSize":7.8,"titleFontWeight":"normal","titleColor":"#777777"}},
  "y2":{"datum":1185}
 }},
{"data":{"name":"ostatni"},
 "mark":{"type":"text","align":"right","baseline":"alphabetic","dx":-12,"fontSize":9.5,"color":"#666666","font":"Lato"},
 "encoding":{
  "x":{"datum":{"year":2025,"month":9,"date":23,"hours":12,"utc":true},"type":"temporal",
   "axis":{"orient":"bottom","offset":56.2,"domain":true,"domainColor":"#555555","domainWidth":1.5,"labels":false,"ticks":false,"grid":false,
    "title":"pap","titleX":537,"titleY":14.5,"titleAlign":"center","titleBaseline":"alphabetic","titleFontSize":10,"titleFontWeight":"bold","titleColor":"#111111"}},
  "y":{"datum":2370,"type":"quantitative","axis":null},
  "text":{"value":"21 września 2025 r."}
 }},
{"data":{"name":"ostatni"},
 "mark":{"type":"text","align":"right","baseline":"alphabetic","dx":9,"fontSize":10.5,"fontWeight":"bold","color":"#111111","font":"Lato"},
 "encoding":{
  "x":{"datum":{"year":2025,"month":9,"date":23,"hours":12,"utc":true},"type":"temporal","axis":null},
  "y":{"datum":2370,"type":"quantitative","axis":null},
  "text":{"field":"v","type":"quantitative"}
 }}
]
}
